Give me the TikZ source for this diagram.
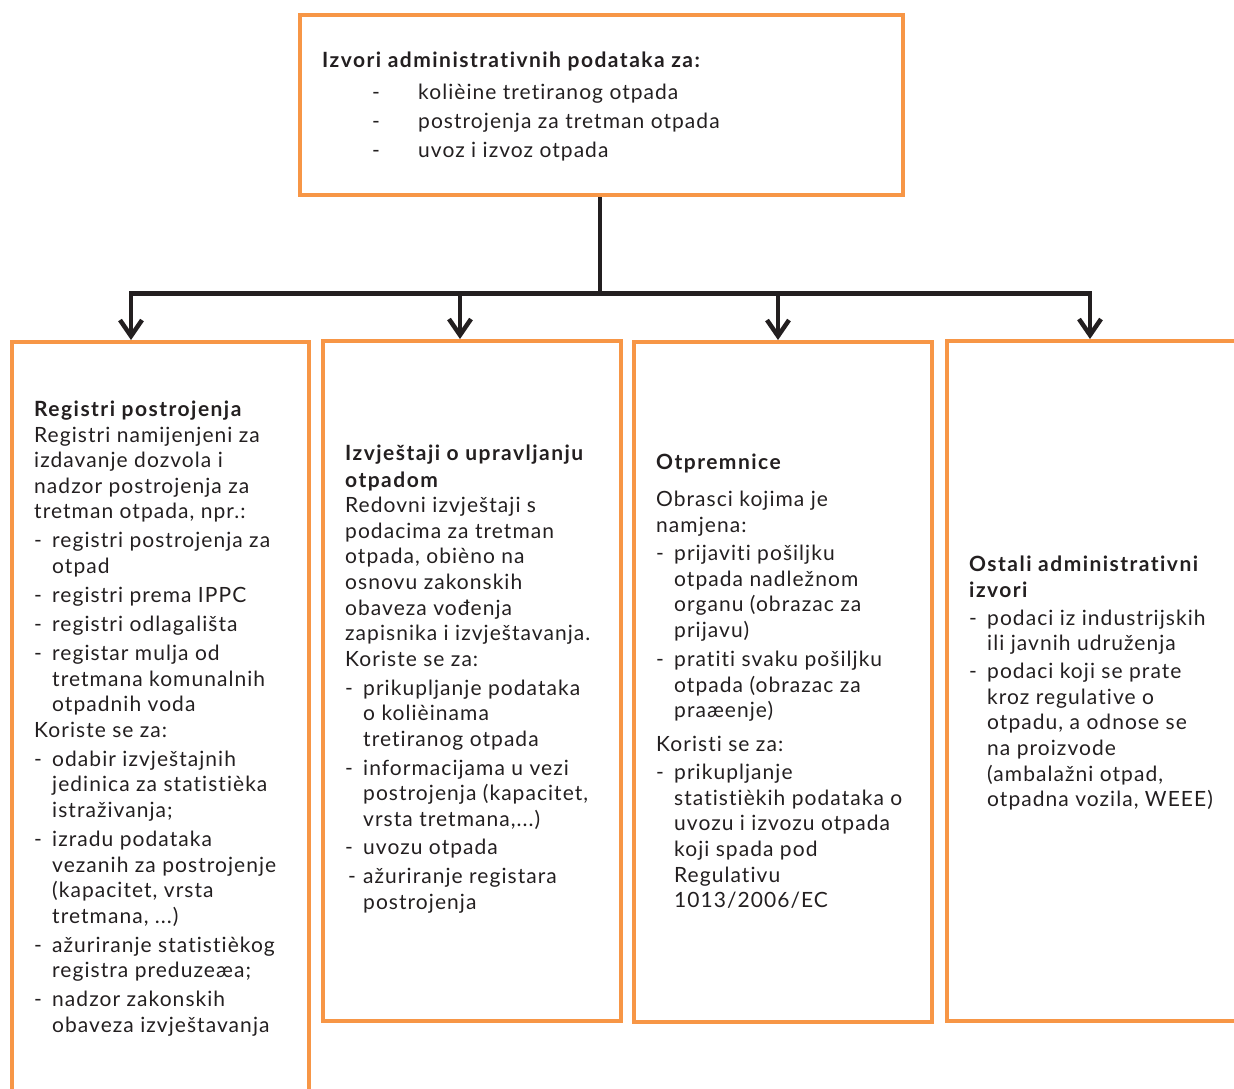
\documentclass[tikz,border=0pt]{standalone}
\usepackage{fontspec}
\setmainfont{Lato}[LetterSpace=5, Ligatures=NoCommon, BoldFeatures={LetterSpace=7}]
\usetikzlibrary{arrows.meta}

\definecolor{boxorange}{HTML}{F79646}
\definecolor{inkdark}{HTML}{231F20}

% list helpers: dash with hanging indent, and the indent alone
\newcommand{\dsh}{\makebox[18pt][l]{-}}
\newcommand{\hng}{\hspace*{18pt}}
% a block of lines whose base anchor is the first baseline
\newcommand{\txtblock}[1]{\fontsize{21}{25.6}\selectfont\begin{tabular}[t]{@{}l@{}}#1\end{tabular}}
\newcommand{\topblock}[1]{\fontsize{21}{29}\selectfont\begin{tabular}[t]{@{}l@{}}#1\end{tabular}}

\begin{document}
\begin{tikzpicture}[x=1pt,y=-1pt,
  obox/.style={draw=boxorange, line width=4pt, rectangle, inner sep=0pt},
  txt/.style={anchor=base west, inner sep=0pt, text=inkdark},
  trunk/.style={draw=inkdark, line width=4pt},
  busbar/.style={draw=inkdark, line width=5pt},
  feed/.style={draw=inkdark, line width=4pt,
    -{Straight Barb[length=16pt,width=22pt,line width=4.5pt]}}]

\useasboundingbox (0,0) rectangle (1234,1088);

% boxes
\node[obox, minimum width=603pt, minimum height=180pt] (top) at (601.5,105) {};
\node[obox, minimum width=297pt, minimum height=768pt] (b1) at (160.5,726) {};
\node[obox, minimum width=298pt, minimum height=680pt] (b2) at (472,681) {};
\node[obox, minimum width=298pt, minimum height=680pt] (b3) at (783,682) {};
\node[obox, minimum width=298pt, minimum height=680pt] (b4) at (1096,681) {};

% connectors
\coordinate (hub) at (600,293);
\coordinate (j1) at (131,293);
\coordinate (j2) at (460,293);
\coordinate (j3) at (778,293);
\coordinate (j4) at (1090,293);
\draw[trunk] (top.south -| hub) -- (hub);
\draw[busbar] ([xshift=-2pt]j1) -- ([xshift=2pt]j4);
\draw[feed] (j1) -- (j1 |- b1.north);
\draw[feed] (j2) -- (j2 |- b2.north);
\draw[feed] (j3) -- (j3 |- b3.north);
\draw[feed] (j4) -- (j4 |- b4.north);

% texts
\node[txt] (t0) at (322,67) {\topblock{%
\textbf{Izvori administrativnih podataka za:}\\[3pt]
\hspace*{50pt}\makebox[46pt][l]{-}kolièine tretiranog otpada\\
\hspace*{50pt}\makebox[46pt][l]{-}postrojenja za tretman otpada\\
\hspace*{50pt}\makebox[46pt][l]{-}uvoz i izvoz otpada}};

\node[txt] (t1) at (34,416.5) {\txtblock{%
\textbf{Registri postrojenja}\\
Registri namijenjeni za\\
izdavanje dozvola i\\
nadzor postrojenja za\\
tretman otpada, npr.:\\[3.4pt]
\dsh registri postrojenja za\\
\hng otpad\\[3.4pt]
\dsh registri prema IPPC\\[3.4pt]
\dsh registri odlagališta\\[3.4pt]
\dsh registar mulja od\\
\hng tretmana komunalnih\\
\hng otpadnih voda\\
Koriste se za:\\[3.4pt]
\dsh odabir izvještajnih\\
\hng jedinica za statistièka\\
\hng istraživanja;\\[3.4pt]
\dsh izradu podataka\\
\hng vezanih za postrojenje\\
\hng (kapacitet, vrsta\\
\hng tretmana, ...)\\[3.4pt]
\dsh ažuriranje statistièkog\\
\hng registra preduzeæa;\\[3.4pt]
\dsh nadzor zakonskih\\
\hng obaveza izvještavanja}};

\node[txt] (t2) at (345,460.5) {\txtblock{%
\textbf{Izvještaji o upravljanju}\\[1pt]
\textbf{otpadom}\\
Redovni izvještaji s\\
podacima za tretman\\
otpada, obièno na\\
osnovu zakonskih\\
obaveza vođenja\\
zapisnika i izvještavanja.\\
Koriste se za:\\[3.4pt]
\dsh prikupljanje podataka\\
\hng o kolièinama\\
\hng tretiranog otpada\\[3pt]
\dsh informacijama u vezi\\
\hng postrojenja (kapacitet,\\
\hng vrsta tretmana,...)\\[3pt]
\dsh uvozu otpada\\[3.4pt]
\makebox[18pt][l]{\hspace{3pt}-}ažuriranje registara\\
\hng postrojenja}};

\node[txt] (t3) at (656,469.5) {\txtblock{%
\textbf{Otpremnice}\\[11.4pt]
Obrasci kojima je\\
namjena:\\[3pt]
\dsh prijaviti pošiljku\\
\hng otpada nadležnom\\
\hng organu (obrazac za\\
\hng prijavu)\\[3.4pt]
\dsh pratiti svaku pošiljku\\
\hng otpada (obrazac za\\
\hng praæenje)\\[8.4pt]
Koristi se za:\\[2.4pt]
\dsh prikupljanje\\
\hng statistièkih podataka o\\
\hng uvozu i izvozu otpada\\
\hng koji spada pod\\
\hng Regulativu\\
\hng 1013/2006/EC}};

\node[txt] (t4) at (969,571.5) {\txtblock{%
\textbf{Ostali administrativni}\\
\textbf{izvori}\\[2.4pt]
\dsh podaci iz industrijskih\\
\hng ili javnih udruženja\\[2.4pt]
\dsh podaci koji se prate\\
\hng kroz regulative o\\
\hng otpadu, a odnose se\\
\hng na proizvode\\
\hng (ambalažni otpad,\\
\hng otpadna vozila, WEEE)}};
\end{tikzpicture}
\end{document}
